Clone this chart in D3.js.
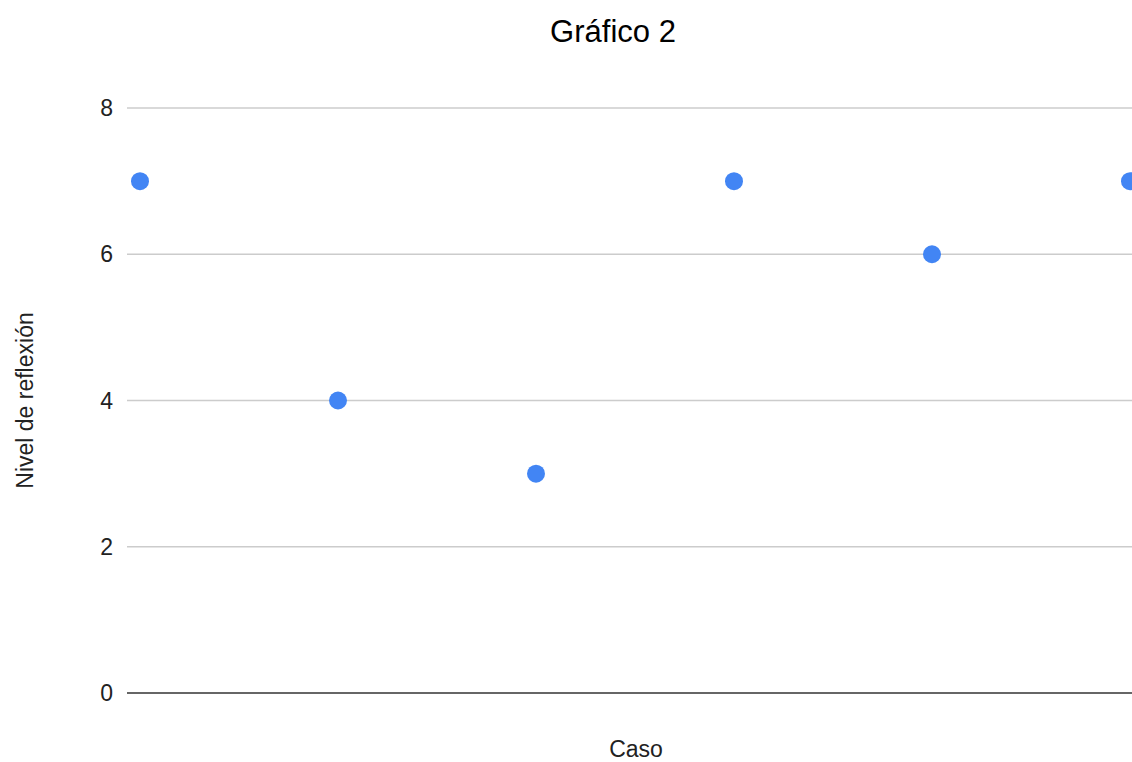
<!DOCTYPE html>
<html>
<head>
<meta charset="utf-8">
<script src="https://cdn.jsdelivr.net/npm/d3@7"></script>
<style>
  html, body { margin: 0; padding: 0; background: #fff; }
  svg { display: block; font-family: "Liberation Sans", Arial, sans-serif; }
</style>
</head>
<body>
<svg id="chart" width="1132" height="762"></svg>
<script>
// Reflection level per case
const cases = [1, 2, 3, 4, 5, 6];
const nivel = [7, 4, 3, 7, 6, 7];
const yTicks = [0, 2, 4, 6, 8];

const svg = d3.select("#chart");
const plot = { left: 127, right: 1146, top: 108, bottom: 693 };

const x = d3.scaleLinear().domain([1, 6]).range([140, 1130]);
const y = d3.scaleLinear().domain([0, 8]).range([plot.bottom, plot.top]);

// Horizontal gridlines
svg.append("g")
  .selectAll("line")
  .data(yTicks.filter(d => d !== 0))
  .join("line")
  .attr("x1", plot.left).attr("x2", plot.right)
  .attr("y1", d => y(d)).attr("y2", d => y(d))
  .attr("stroke", "#cccccc").attr("stroke-width", 1.3);

// Baseline
svg.append("line")
  .attr("x1", plot.left).attr("x2", plot.right)
  .attr("y1", y(0)).attr("y2", y(0))
  .attr("stroke", "#333333").attr("stroke-width", 1.5);

// Y tick labels
svg.append("g")
  .selectAll("text")
  .data(yTicks)
  .join("text")
  .attr("x", 113).attr("y", d => y(d))
  .attr("dy", "0.35em")
  .attr("text-anchor", "end")
  .attr("font-size", 23)
  .attr("fill", "#222")
  .text(d => d);

// Points
svg.append("g")
  .selectAll("circle")
  .data(cases.map((c, i) => ({ c, v: nivel[i] })))
  .join("circle")
  .attr("cx", d => x(d.c))
  .attr("cy", d => y(d.v))
  .attr("r", 9)
  .attr("fill", "#4285f4");

// Title
svg.append("text")
  .attr("x", 613).attr("y", 42)
  .attr("text-anchor", "middle")
  .attr("font-size", 31)
  .attr("fill", "#000")
  .text("Gráfico 2");

// X axis label
svg.append("text")
  .attr("x", 636).attr("y", 757)
  .attr("text-anchor", "middle")
  .attr("font-size", 23)
  .attr("fill", "#222")
  .text("Caso");

// Y axis label
svg.append("text")
  .attr("transform", `translate(33, ${(plot.top + plot.bottom) / 2}) rotate(-90)`)
  .attr("text-anchor", "middle")
  .attr("font-size", 23)
  .attr("fill", "#222")
  .text("Nivel de reflexión");
</script>
</body>
</html>
